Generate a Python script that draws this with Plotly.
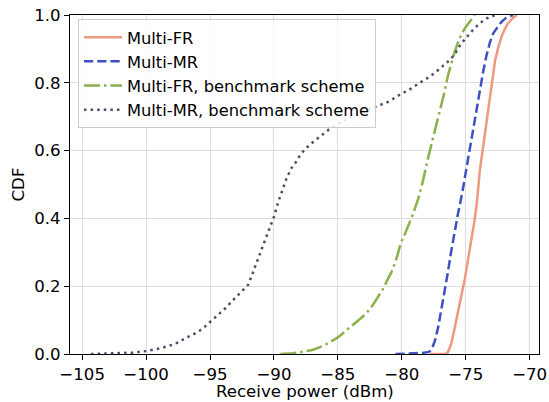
import plotly.graph_objects as go

# Multi-FR (solid)
fr_x = [-77.8, -76.6, -76.4, -76.13, -75.85, -75.6, -75.3, -75.08, -74.8, -74.55, -74.35, -74.16,
        -73.9, -73.7, -73.5, -73.3, -73.1, -72.9, -72.7, -72.45, -72.2, -71.95, -71.7, -71.35, -71.0]
fr_y = [0.0, 0.0, 0.005, 0.03, 0.08, 0.13, 0.18, 0.22, 0.28, 0.34, 0.385, 0.435,
        0.54, 0.595, 0.65, 0.71, 0.77, 0.82, 0.867, 0.905, 0.936, 0.958, 0.975, 0.99, 1.0]

# Multi-MR (dashed)
mr_x = [-80.5, -79.5, -78.5, -78.0, -77.8, -77.6, -77.4, -77.15, -76.9, -76.65, -76.4, -76.15, -75.9,
        -75.6, -75.3, -75.05, -74.8, -74.55, -74.3, -74.1, -73.9, -73.65, -73.4, -73.1, -72.85,
        -72.5, -72.2, -71.8, -71.3]
mr_y = [0.0, 0.001, 0.003, 0.005, 0.008, 0.02, 0.04, 0.08, 0.13, 0.185, 0.24, 0.30, 0.356,
        0.415, 0.47, 0.525, 0.58, 0.64, 0.70, 0.74, 0.78, 0.83, 0.877, 0.92, 0.946,
        0.966, 0.98, 0.993, 1.0]

# Multi-FR, benchmark scheme (dash-dot)
fb_x = [-89.5, -88.5, -87.7, -87.0, -86.4, -85.7, -85.0, -84.3, -83.6, -83.0, -82.5, -82.0, -81.5,
        -81.1, -80.7, -80.35, -80.1, -79.75, -79.4, -79.1, -78.7, -78.35, -78.0, -77.6, -77.25,
        -76.9, -76.65, -76.4, -76.15, -75.9, -75.6, -75.3, -75.05, -74.8, -74.55, -74.3]
fb_y = [0.0, 0.002, 0.007, 0.012, 0.02, 0.033, 0.049, 0.07, 0.093, 0.112, 0.132, 0.16, 0.19,
        0.22, 0.25, 0.29, 0.325, 0.355, 0.385, 0.415, 0.46, 0.51, 0.57, 0.63, 0.68,
        0.73, 0.775, 0.82, 0.855, 0.887, 0.92, 0.946, 0.962, 0.975, 0.99, 1.0]

# Multi-MR, benchmark scheme (dotted)
mb_x = [-104.3, -103.0, -102.0, -101.0, -100.0, -99.0, -98.2, -97.5, -96.9, -96.2, -95.6, -95.0,
        -94.4, -93.8, -93.3, -92.9, -92.4, -92.0, -91.7, -91.4, -91.05, -90.7, -90.35, -90.0,
        -89.65, -89.3, -89.0, -88.6, -88.3, -87.9, -87.4, -86.8, -86.3, -85.7, -85.2, -84.5,
        -83.8, -83.0, -82.3, -81.6, -81.0, -80.2, -79.4, -78.6, -77.9, -77.3, -76.75, -76.25,
        -75.85, -75.5, -75.1, -74.7, -74.3, -73.9, -73.5, -73.1, -72.6]
mb_y = [0.0, 0.001, 0.002, 0.004, 0.009, 0.016, 0.024, 0.034, 0.047, 0.06, 0.074, 0.094,
        0.113, 0.135, 0.155, 0.17, 0.19, 0.205, 0.235, 0.265, 0.30, 0.335, 0.37, 0.405,
        0.45, 0.49, 0.52, 0.55, 0.565, 0.59, 0.61, 0.63, 0.645, 0.662, 0.675, 0.69,
        0.703, 0.715, 0.725, 0.735, 0.745, 0.764, 0.78, 0.80, 0.816, 0.833, 0.85, 0.867,
        0.885, 0.907, 0.927, 0.946, 0.962, 0.975, 0.987, 0.995, 1.0]

x_ticks = [-105, -100, -95, -90, -85, -80, -75, -70]
x_tick_labels = ["\u2212105", "\u2212100", "\u221295", "\u221290", "\u221285", "\u221280", "\u221275", "\u221270"]
y_ticks = [0.0, 0.2, 0.4, 0.6, 0.8, 1.0]
y_tick_labels = ["0.0", "0.2", "0.4", "0.6", "0.8", "1.0"]
x_title = "Receive power (dBm)"
y_title = "CDF"

FONT = "DejaVu Sans"
LW = 2.5

fig = go.Figure()
fig.add_trace(go.Scatter(x=fr_x, y=fr_y, mode="lines", name="Multi-FR",
                         line=dict(color="#EE9A7E", width=LW)))
fig.add_trace(go.Scatter(x=mr_x, y=mr_y, mode="lines", name="Multi-MR",
                         line=dict(color="#3F51C2", width=LW, dash="9.25px,4px")))
fig.add_trace(go.Scatter(x=fb_x, y=fb_y, mode="lines", name="Multi-FR, benchmark scheme",
                         line=dict(color="#8AB14A", width=LW, dash="16px,4px,2.5px,4px")))
fig.add_trace(go.Scatter(x=mb_x, y=mb_y, mode="lines", name="Multi-MR, benchmark scheme",
                         line=dict(color="#4A4E66", width=LW, dash="2.5px,4.1px")))

axis_common = dict(
    showline=True, linecolor="black", linewidth=1.3, mirror=True,
    ticks="outside", ticklen=5, tickwidth=1.2, tickcolor="black",
    showgrid=True, gridcolor="#DDDDDD", gridwidth=1,
    zeroline=False, automargin=False,
    tickfont=dict(family=FONT, size=16.6, color="black"),
)

fig.update_xaxes(range=[-105.95, -69.27], tickvals=x_ticks, ticktext=x_tick_labels,
                 **axis_common)
fig.update_yaxes(range=[0, 1], tickvals=y_ticks, ticktext=y_tick_labels,
                 title=dict(text=y_title, font=dict(family=FONT, size=16.6, color="black"),
                            standoff=5),
                 **axis_common)

# x-axis title placed as paper annotation just below the tick labels
fig.add_annotation(text=x_title, xref="paper", yref="paper", x=0.5, y=-0.112,
                   xanchor="center", yanchor="middle", showarrow=False,
                   font=dict(family=FONT, size=16.6, color="black"))

fig.update_layout(
    width=549, height=402,
    margin=dict(l=69.5, r=9.7, t=15, b=48),
    paper_bgcolor="white", plot_bgcolor="white",
    font=dict(family=FONT, size=16.6, color="black"),
    legend=dict(x=0.017, y=0.988, xanchor="left", yanchor="top", itemwidth=38,
                bgcolor="rgba(255,255,255,0.85)", bordercolor="#CCCCCC", borderwidth=1,
                font=dict(family=FONT, size=16.3, color="black")),
    showlegend=True,
)

fig.write_html("out.html")
